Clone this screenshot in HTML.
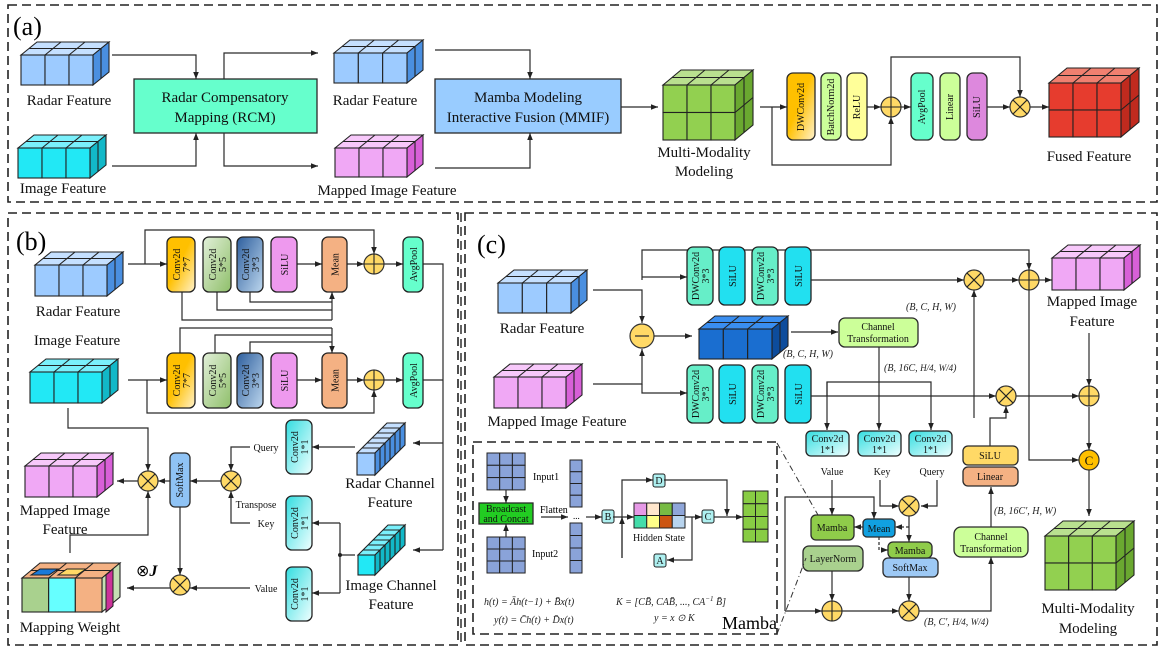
<!DOCTYPE html>
<html><head><meta charset="utf-8"><style>
html,body{margin:0;padding:0;background:#fff;}
svg{display:block;font-family:"Liberation Serif",serif;}
</style></head><body>
<svg id="s" width="1163" height="651" viewBox="0 0 1163 651" xmlns="http://www.w3.org/2000/svg">
<defs>
<marker id="ar" viewBox="0 0 10 10" refX="10" refY="5" markerWidth="7" markerHeight="7" orient="auto" markerUnits="userSpaceOnUse"><path d="M0,1 L10,5 L0,9z" fill="#222"/></marker>
<linearGradient id="gOr" x1="0" y1="0" x2="1" y2="1"><stop offset="0.45" stop-color="#ffc000"/><stop offset="1" stop-color="#fff2cc"/></linearGradient>
<linearGradient id="gGr" x1="0" y1="0" x2="1" y2="1"><stop offset="0" stop-color="#e2f0d9"/><stop offset="1" stop-color="#8fbf6a"/></linearGradient>
<linearGradient id="gBl" x1="0" y1="0" x2="1" y2="1"><stop offset="0" stop-color="#2e5f9e"/><stop offset="1" stop-color="#bdd7ee"/></linearGradient>
<linearGradient id="gCy" x1="0" y1="0" x2="1" y2="1"><stop offset="0" stop-color="#33dde0"/><stop offset="1" stop-color="#f0ffff"/></linearGradient>
</defs>
<style>
.ln{fill:none;stroke:#2a2a2a;stroke-width:1.2}
.bx{stroke:#2a2a2a;stroke-width:1.3}
.t14{font-size:15px;fill:#111;text-anchor:middle}
.t11{font-size:11px;fill:#111;text-anchor:middle}
.t10{font-size:10px;fill:#111;text-anchor:middle}
.m{font-size:10px;fill:#222;font-style:italic}
.dash{fill:none;stroke:#222;stroke-width:1.6;stroke-dasharray:9 5}
</style>

<!-- panels -->
<rect class="dash" x="8" y="5" width="1149" height="197"/>
<rect class="dash" x="8" y="213" width="450" height="432"/>
<rect class="dash" x="465" y="213" width="692" height="432"/>
<line x1="461" y1="213" x2="461" y2="645" stroke="#222" stroke-width="1.4" stroke-dasharray="9 5"/>
<rect class="dash" x="473" y="442" width="304" height="192"/>

<text x="13" y="35" font-size="26">(a)</text>
<text x="16" y="250" font-size="26">(b)</text>
<text x="477" y="253" font-size="26">(c)</text>

<g id="cubes"></g>

<!-- ===== Panel a ===== -->
<path class="ln" d="M112,55H196V79" marker-end="url(#ar)"/>
<path class="ln" d="M112,166H196V133" marker-end="url(#ar)"/>
<path class="ln" d="M224,79V53H318" marker-end="url(#ar)"/>
<path class="ln" d="M224,133V166H318" marker-end="url(#ar)"/>
<rect class="bx" x="134" y="79" width="183" height="54" fill="#66ffcc"/>
<text class="t14" x="225" y="102">Radar Compensatory</text>
<text class="t14" x="225" y="122">Mapping (RCM)</text>
<text class="t14" x="69" y="105">Radar Feature</text>
<text class="t14" x="63" y="193">Image Feature</text>
<text class="t14" x="375" y="105">Radar Feature</text>
<text class="t14" x="387" y="195">Mapped Image Feature</text>
<path class="ln" d="M435,50H530V79" marker-end="url(#ar)"/>
<path class="ln" d="M435,168H530V133" marker-end="url(#ar)"/>
<rect class="bx" x="435" y="79" width="186" height="54" fill="#99ccff"/>
<text class="t14" x="528" y="102">Mamba Modeling</text>
<text class="t14" x="528" y="122">Interactive Fusion (MMIF)</text>
<path class="ln" d="M621,107H658" marker-end="url(#ar)"/>
<text class="t14" x="704" y="157">Multi-Modality</text>
<text class="t14" x="704" y="176">Modeling</text>
<path class="ln" d="M760,107H787" marker-end="url(#ar)"/>
<path class="ln" d="M772,107V165H891V117" marker-end="url(#ar)"/>
<rect class="bx" x="787" y="73" width="28" height="67" rx="6" fill="url(#gOr)"/>
<text class="t10" transform="translate(804,107) rotate(-90)" font-size="11">DWConv2d</text>
<rect class="bx" x="821" y="73" width="20" height="67" rx="6" fill="#ccff99"/>
<text class="t10" transform="translate(834,107) rotate(-90)">BatchNorm2d</text>
<rect class="bx" x="847" y="73" width="20" height="67" rx="6" fill="#ffff99"/>
<text class="t10" transform="translate(860,107) rotate(-90)">ReLU</text>
<path class="ln" d="M867,107H881" marker-end="url(#ar)"/>
<path class="ln" d="M901,107H911" marker-end="url(#ar)"/>
<rect class="bx" x="911" y="73" width="22" height="67" rx="6" fill="#66ffcc"/>
<text class="t10" transform="translate(925,107) rotate(-90)">AvgPool</text>
<rect class="bx" x="940" y="73" width="20" height="67" rx="6" fill="#ccff99"/>
<text class="t10" transform="translate(953,107) rotate(-90)">Linear</text>
<rect class="bx" x="967" y="73" width="20" height="67" rx="6" fill="#dd88dd"/>
<text class="t10" transform="translate(980,107) rotate(-90)">SiLU</text>
<path class="ln" d="M987,107H1010" marker-end="url(#ar)"/>
<path class="ln" d="M891,97V57H1020V97" marker-end="url(#ar)"/>
<path class="ln" d="M1030,107H1049" marker-end="url(#ar)"/>
<text class="t14" x="1089" y="161">Fused Feature</text>

<!-- ===== Panel b ===== -->
<text class="t14" x="78" y="316">Radar Feature</text>
<text class="t14" x="77" y="345">Image Feature</text>
<path class="ln" d="M128,264H167" marker-end="url(#ar)"/>
<path class="ln" d="M145,264V230H374V254" marker-end="url(#ar)"/>
<path class="ln" d="M297,264H322" marker-end="url(#ar)"/>
<path class="ln" d="M347,264H364" marker-end="url(#ar)"/>
<path class="ln" d="M384,264H403" marker-end="url(#ar)"/>
<path class="ln" d="M423,264H443V550"/>
<path class="ln" d="M423,380H443"/>
<path class="ln" d="M443,443H413" marker-end="url(#ar)"/>
<path class="ln" d="M443,550H413" marker-end="url(#ar)"/>
<path class="ln" d="M182,292V320H332M217,292V310H332M250,292V302H332"/>
<path class="ln" d="M332,320V292" marker-end="url(#ar)"/>
<path class="ln" d="M128,380H167" marker-end="url(#ar)"/>
<path class="ln" d="M147,380V413H374V390" marker-end="url(#ar)"/>
<path class="ln" d="M180,353V328H332M215,353V335H332M250,353V342H332"/>
<path class="ln" d="M332,328V353" marker-end="url(#ar)"/>
<path class="ln" d="M297,380H322" marker-end="url(#ar)"/>
<path class="ln" d="M347,380H364" marker-end="url(#ar)"/>
<path class="ln" d="M384,380H403" marker-end="url(#ar)"/>
<g id="rowb"></g>

<text class="t14" x="390" y="488">Radar Channel</text>
<text class="t14" x="390" y="507">Feature</text>
<text class="t14" x="391" y="590">Image Channel</text>
<text class="t14" x="391" y="609">Feature</text>
<path class="ln" d="M355,447H312" marker-end="url(#ar)"/>
<path class="ln" d="M355,555H340M340,523V593"/>
<circle cx="340" cy="555" r="2" fill="#222"/>
<path class="ln" d="M340,523H312" marker-end="url(#ar)"/>
<path class="ln" d="M340,593H312" marker-end="url(#ar)"/>
<g id="c11"></g>
<text class="t10" x="266" y="451">Query</text>
<text class="t10" x="256" y="508">Transpose</text>
<text class="t10" x="266" y="527">Key</text>
<text class="t10" x="266" y="592">Value</text>
<path class="ln" d="M250,447H231V471" marker-end="url(#ar)"/>
<path class="ln" d="M250,523H231V491" marker-end="url(#ar)"/>
<path class="ln" d="M221,481H190" marker-end="url(#ar)"/>
<rect class="bx" x="170" y="453" width="20" height="54" rx="5" fill="#8fc3f5"/>
<text class="t10" transform="translate(183,480) rotate(-90)" font-size="9">SoftMax</text>
<path class="ln" d="M170,481H158" marker-end="url(#ar)"/>
<path class="ln" d="M138,481H117" marker-end="url(#ar)"/>
<path class="ln" d="M180,507V575" marker-end="url(#ar)"/>
<path class="ln" d="M250,588H190" marker-end="url(#ar)"/>
<path class="ln" d="M170,588H127" marker-end="url(#ar)"/>
<path class="ln" d="M68,408V428H148V471" marker-end="url(#ar)"/>
<path class="ln" d="M70,553V535H148V491" marker-end="url(#ar)"/>
<text class="t14" x="65" y="515">Mapped Image</text>
<text class="t14" x="65" y="534">Feature</text>
<text class="t14" x="70" y="632">Mapping Weight</text>
<text x="136" y="576" font-size="16">⊗<tspan font-weight="bold" font-style="italic">J</tspan></text>

<!-- ===== Panel c ===== -->
<text class="t14" x="542" y="333">Radar Feature</text>
<text class="t14" x="557" y="426">Mapped Image Feature</text>
<path class="ln" d="M593,290H642V323" marker-end="url(#ar)"/>
<path class="ln" d="M642,280V250H1029V270" marker-end="url(#ar)"/>
<path class="ln" d="M642,277H687" marker-end="url(#ar)"/>
<path class="ln" d="M593,384H642V349" marker-end="url(#ar)"/>
<path class="ln" d="M642,384V393H687" marker-end="url(#ar)"/>
<circle cx="642" cy="336" r="12" fill="#ffd966" stroke="#333" stroke-width="1.2"/>
<line x1="635" y1="336" x2="649" y2="336" stroke="#333" stroke-width="1.3"/>
<path class="ln" d="M654,336H692" marker-end="url(#ar)"/>
<g id="rowc"></g>
<path class="ln" d="M811,280H964" marker-end="url(#ar)"/>
<path class="ln" d="M984,280H1019" marker-end="url(#ar)"/>
<path class="ln" d="M1039,280H1052" marker-end="url(#ar)"/>
<text class="m" x="783" y="357" font-size="11">(B, C, H, W)</text>
<text class="m" x="906" y="310" font-size="11">(B, C, H, W)</text>
<path class="ln" d="M791,332H838" marker-end="url(#ar)"/>
<rect class="bx" x="839" y="318" width="79" height="29" rx="6" fill="#ccff99"/>
<text class="t10" x="878" y="330">Channel</text>
<text class="t10" x="878" y="342">Transformation</text>
<path class="ln" d="M879,347V430" marker-end="url(#ar)"/>
<text class="m" x="884" y="371" font-size="11">(B, 16C, <tspan font-size="9">H/4</tspan>, <tspan font-size="9">W/4</tspan>)</text>
<path class="ln" d="M811,396H996" marker-end="url(#ar)"/>
<path class="ln" d="M1016,396H1079" marker-end="url(#ar)"/>
<path class="ln" d="M827,396V382H931V430" marker-end="url(#ar)"/>
<path class="ln" d="M827,382V430" marker-end="url(#ar)"/>
<g id="cc"></g>
<text class="t10" x="832" y="475">Value</text>
<text class="t10" x="882" y="475">Key</text>
<text class="t10" x="932" y="475">Query</text>
<path class="ln" d="M832,480V515" marker-end="url(#ar)"/>
<path class="ln" d="M880,480V506H899" marker-end="url(#ar)"/>
<path class="ln" d="M937,480V506H921" marker-end="url(#ar)"/>
<path class="ln" d="M785,611V497H874V519" marker-end="url(#ar)"/>
<rect class="bx" x="803" y="546" width="60" height="25" rx="6" fill="#a9d18e"/>
<text class="t10" x="833" y="562">LayerNorm</text>
<rect class="bx" x="811" y="515" width="43" height="25" rx="5" fill="#8fcc4a"/>
<text class="t10" x="832" y="531">Mamba</text>
<rect class="bx" x="883" y="558" width="55" height="19" rx="5" fill="#9dc9f5"/>
<text class="t10" x="910" y="571">SoftMax</text>
<rect class="bx" x="888" y="542" width="44" height="16" rx="5" fill="#8fcc4a"/>
<text class="t10" x="910" y="554">Mamba</text>
<rect class="bx" x="863" y="519" width="32" height="18" rx="4" fill="#11a0e0"/>
<text class="t10" x="879" y="532">Mean</text>
<path class="ln" d="M863,527H854" marker-end="url(#ar)"/>
<path class="ln" d="M909,516V542" marker-end="url(#ar)"/>
<path class="ln" d="M909,527H895" stroke-dasharray="3 2" marker-end="url(#ar)"/>
<path class="ln" d="M879,537V550H888" stroke-dasharray="3 2" marker-end="url(#ar)"/>
<path class="ln" d="M832,571V601" marker-end="url(#ar)"/>
<path class="ln" d="M785,611H822" marker-end="url(#ar)"/>
<path class="ln" d="M842,611H899" marker-end="url(#ar)"/>
<path class="ln" d="M909,577V601" marker-end="url(#ar)"/>
<path class="ln" d="M919,611H991V557" marker-end="url(#ar)"/>
<rect class="bx" x="954" y="527" width="74" height="30" rx="7" fill="#ccff99"/>
<text class="t10" x="991" y="540">Channel</text>
<text class="t10" x="991" y="552">Transformation</text>
<path class="ln" d="M991,527V487" marker-end="url(#ar)"/>
<text class="m" x="994" y="514" font-size="11">(B, 16C′, H, W)</text>
<text class="m" x="924" y="625" font-size="11">(B, C′, <tspan font-size="9">H/4</tspan>, <tspan font-size="9">W/4</tspan>)</text>
<rect class="bx" x="963" y="467" width="55" height="19" rx="5" fill="#f4b183"/>
<text class="t10" x="990" y="480">Linear</text>
<rect class="bx" x="963" y="446" width="55" height="19" rx="5" fill="#ffd966"/>
<text class="t10" x="990" y="459">SiLU</text>
<path class="ln" d="M990,446V418H1006V406" marker-end="url(#ar)"/>
<path class="ln" d="M974,418V290" marker-end="url(#ar)"/>
<path class="ln" d="M1029,290V460H1079" marker-end="url(#ar)"/>
<path class="ln" d="M1089,333V386" marker-end="url(#ar)"/>
<path class="ln" d="M1089,407V450" marker-end="url(#ar)"/>
<path class="ln" d="M1089,470V516" marker-end="url(#ar)"/>
<circle cx="1089" cy="460" r="10" fill="#ffc000" stroke="#333" stroke-width="1.2"/>
<text x="1089" y="465" font-size="13" text-anchor="middle" fill="#111">C</text>
<text class="t14" x="1092" y="306">Mapped Image</text>
<text class="t14" x="1092" y="326">Feature</text>
<text class="t14" x="1088" y="613">Multi-Modality</text>
<text class="t14" x="1088" y="633">Modeling</text>
<line x1="777" y1="443" x2="818" y2="515" stroke="#333" stroke-width="1" stroke-dasharray="6 3 1 3"/>
<line x1="777" y1="634" x2="806" y2="558" stroke="#333" stroke-width="1" stroke-dasharray="6 3 1 3"/>

<!-- inset -->
<g id="inset"></g>
<rect class="bx" x="479" y="503" width="54" height="21" fill="#22cc22" stroke-width="1"/>
<text class="t10" x="506" y="512" font-size="9.5">Broadcast</text>
<text class="t10" x="506" y="522" font-size="9.5">and Concat</text>
<path class="ln" d="M506,490V503" marker-end="url(#ar)"/>
<path class="ln" d="M506,537V524" marker-end="url(#ar)"/>
<text x="533" y="480" font-size="10">Input1</text>
<text x="532" y="557" font-size="10">Input2</text>
<text x="540" y="513" font-size="10">Flatten</text>
<path class="ln" d="M541,517H568" marker-end="url(#ar)"/>
<text x="573" y="519" font-size="9">...</text>
<path class="ln" d="M586,517H602" marker-end="url(#ar)"/>
<path class="ln" d="M613,517H634" marker-end="url(#ar)"/>
<path class="ln" d="M622,558V480H653" marker-end="url(#ar)"/>
<path class="ln" d="M622,558V517" marker-end="url(#ar)"/>
<path class="ln" d="M685,517H702" marker-end="url(#ar)"/>
<path class="ln" d="M692,517V560H667" marker-end="url(#ar)"/>
<path class="ln" d="M664,480H727V516" marker-end="url(#ar)"/>
<path class="ln" d="M714,517H743" marker-end="url(#ar)"/>
<text class="t10" x="659" y="541" font-size="9.5">Hidden State</text>
<text class="m" x="484" y="605" font-size="10.5">h(t) = Āh(t−1) + B̄x(t)</text>
<text class="m" x="616" y="605" font-size="10.5">K = [CB̄, CAB̄, ..., CA<tspan font-size="7" dy="-4">−1</tspan><tspan dy="4"> B̄]</tspan></text>
<text class="m" x="494" y="623" font-size="10.5">y(t) = C̄h(t) + D̄x(t)</text>
<text class="m" x="654" y="621" font-size="10.5">y = x ⊙ K</text>
<text x="722" y="629" font-size="18">Mamba</text>
<g id="ops"></g>
</svg>
<script>
var NS="http://www.w3.org/2000/svg";
function el(p,t,a,txt){var e=document.createElementNS(NS,t);for(var k in a)e.setAttribute(k,a[k]);if(txt)e.textContent=txt;document.getElementById(p).appendChild(e);return e;}
function ln(p,x1,y1,x2,y2){el(p,"line",{x1:x1,y1:y1,x2:x2,y2:y2,stroke:"#222","stroke-width":1.1});}
function cube(X0,Y0,X1,Y1,dx,dy,cols,rows,dep,f,t,s,fc){
 var p="cubes",fx=X1-dx,fy=Y0+dy;
 el(p,"polygon",{points:[X0,fy,X0+dx,Y0,X1,Y0,fx,fy].join(","),fill:t,stroke:"#222","stroke-width":1.1});
 el(p,"polygon",{points:[fx,fy,X1,Y0,X1,Y1-dy,fx,Y1].join(","),fill:s,stroke:"#222","stroke-width":1.1});
 var cw=(fx-X0)/cols,rh=(Y1-fy)/rows;
 for(var i=0;i<cols;i++)for(var j=0;j<rows;j++){el(p,"rect",{x:X0+i*cw,y:fy+j*rh,width:cw,height:rh,fill:fc?fc[j*cols+i]:f,stroke:"#222","stroke-width":1.1});}
 for(var i=1;i<cols;i++)ln(p,X0+i*cw,fy,X0+i*cw+dx,Y0);
 for(var k=1;k<dep;k++){var ox=dx*k/dep,oy=dy*k/dep;ln(p,X0+ox,fy-oy,fx+ox,fy-oy);ln(p,fx+ox,fy-oy,fx+ox,Y1-oy);}
 for(var j=1;j<rows;j++)ln(p,fx,fy+j*rh,X1,fy+j*rh-dy);
}
var R=["#9dcbff","#c5e0ff","#4a8fe0"],I=["#22e8f5","#7af0fb","#12b8c8"],P=["#f0a8f5","#f7c8fa","#d860d8"],G=["#92d050","#b9e08f","#6aa830"],RD=["#e63c2e","#f08070","#c02a1e"],DB=["#1a6ed0","#3a8ef0","#0d4c9c"];
function C(b,x0,y0,x1,y1,dx,dy,cols,rows,dep){cube(x0,y0,x1,y1,dx,dy,cols,rows,dep,b[0],b[1],b[2]);}
// panel a
C(R,21,42,109,85,16,13,3,1,2);C(I,18,135,106,178,16,13,3,1,2);
C(R,334,40,423,83,16,13,3,1,2);C(P,335,135,423,177,16,13,3,1,2);
C(G,663,70,753,140,18,15,3,2,2);C(RD,1049,68,1139,137,18,15,3,2,2);
// panel b
C(R,35,252,123,296,16,13,3,1,2);C(I,30,359,118,403,16,13,3,1,2);
C(P,25,453,113,497,16,13,3,1,2);
cube(22,563,120,612,18,15,3,1,2,"","#f4b183","#c5e0b4",["#a9d18e","#66ffff","#f4b183"]);
el("cubes","polygon",{points:"31,575 40,569 58,569 49,575",fill:"#1a7ad9",stroke:"#222","stroke-width":1});
el("cubes","polygon",{points:"58,575 67,569 86,569 77,575",fill:"#ffd966",stroke:"#222","stroke-width":1});
el("cubes","polygon",{points:"106,575 113,569 113,606 106,612",fill:"#cc3399",stroke:"#222","stroke-width":1});
C(R,357,423,405,475,30,30,1,1,6);C(I,358,525,405,575,30,30,1,1,6);
// panel c
C(R,498,270,587,313,16,13,3,1,2);C(P,494,364,582,408,16,13,3,1,2);
C(DB,699,316,788,359,16,13,3,1,2);C(P,1052,245,1140,290,16,13,3,1,2);
C(G,1045,521,1134,590,18,15,3,2,2);
// boxes
function vbox(p,x,y,w,h,fill,l1,l2,fs){el(p,"rect",{x:x,y:y,width:w,height:h,rx:6,fill:fill,stroke:"#222","stroke-width":1.3});var cx=x+w/2,cy=y+h/2;
 if(l2){el(p,"text",{class:"t10","font-size":fs||10,transform:"translate("+(cx-1)+","+cy+") rotate(-90)"},l1);el(p,"text",{class:"t10","font-size":fs||10,transform:"translate("+(cx+9)+","+cy+") rotate(-90)"},l2);}
 else el(p,"text",{class:"t10","font-size":fs||10,transform:"translate("+(cx+4)+","+cy+") rotate(-90)"},l1);}
[[237],[353]].forEach(function(r){var y=r[0];
 vbox("rowb",167,y,28,55,"url(#gOr)","Conv2d","7*7");vbox("rowb",203,y,28,55,"url(#gGr)","Conv2d","5*5");
 vbox("rowb",237,y,26,55,"url(#gBl)","Conv2d","3*3");vbox("rowb",271,y,26,55,"#ee99ee","SiLU");
 vbox("rowb",322,y,25,55,"#f4b183","Mean");vbox("rowb",403,y,20,55,"#66ffcc","AvgPool");});
[420,496,567].forEach(function(y){vbox("c11",286,y,26,54,"url(#gCy)","Conv2d","1*1");});
[247,365].forEach(function(y){
 vbox("rowc",687,y,26,58,"#66eec8","DWConv2d","3*3");vbox("rowc",719,y,26,58,"#22e0f0","SiLU");
 vbox("rowc",752,y,26,58,"#66eec8","DWConv2d","3*3");vbox("rowc",785,y,26,58,"#22e0f0","SiLU");});
[806,858,909].forEach(function(x){el("cc","rect",{x:x,y:431,width:43,height:25,rx:5,fill:"url(#gCy)",stroke:"#222","stroke-width":1.3});
 el("cc","text",{class:"t10",x:x+21.5,y:442},"Conv2d");el("cc","text",{class:"t10",x:x+21.5,y:453},"1*1");});
// inset grids
function grid(x,y,cw,ch,c,r,cols){for(var i=0;i<c;i++)for(var j=0;j<r;j++)el("inset","rect",{x:x+i*cw,y:y+j*ch,width:cw,height:ch,fill:cols?cols[j*c+i]:"#8aa3d9",stroke:"#222","stroke-width":1});}
grid(487,453,12.7,12.3,3,3);grid(487,537,12.7,12,3,3);
grid(570,460,12,11.75,1,4);grid(570,523,12,12.5,1,4);
grid(634,503,12.75,12.5,4,2,["#e699e6","#ffe6cc","#77bb44","#8fa6d9","#44ddaa","#ffff88","#cc5511","#b8d4ee"]);
grid(743,491,12.5,12.75,2,4,["#88cc44","#88cc44","#88cc44","#88cc44","#88cc44","#88cc44","#88cc44","#88cc44"]);
[["B",602,510],["D",653,474],["A",654,554],["C",702,510]].forEach(function(b){el("inset","rect",{x:b[1],y:b[2],width:12,height:13,rx:2,fill:"#aef0f0",stroke:"#222","stroke-width":1});el("inset","text",{class:"t10","font-size":9,x:b[1]+6,y:b[2]+10},b[0]);});
// ops
function op(x,y,t,r){r=r||10;el("ops","circle",{cx:x,cy:y,r:r,fill:"#ffd966",stroke:"#333","stroke-width":1.2});
 if(t=="+"){ln("ops",x-r,y,x+r,y);ln("ops",x,y-r,x,y+r);}else{var d=r*0.707;ln("ops",x-d,y-d,x+d,y+d);ln("ops",x-d,y+d,x+d,y-d);}}
op(891,107,"+");op(1020,107,"x");
op(374,264,"+");op(374,380,"+");op(231,481,"x");op(148,481,"x");op(180,585,"x");
op(974,280,"x");op(1029,280,"+");op(1006,396,"x");op(1089,396,"+");op(909,506,"x");op(832,611,"+");op(909,611,"x");
</script>
</body></html>
